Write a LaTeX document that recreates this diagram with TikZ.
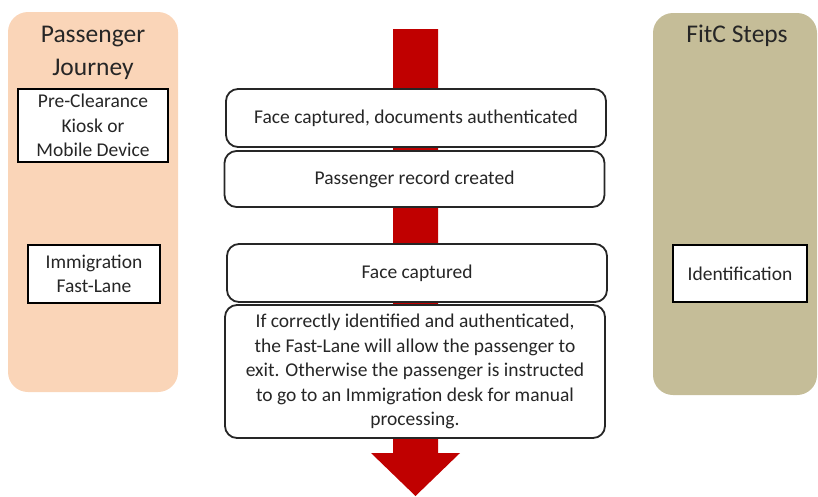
\documentclass[tikz,border=0pt]{standalone}
\usepackage{fontspec}
\setmainfont{Carlito}
\usetikzlibrary{positioning}
\definecolor{cpeach}{HTML}{FAD5B8}
\definecolor{ckhaki}{HTML}{C5BD98}
\definecolor{cred}{HTML}{C00000}
\definecolor{cink}{HTML}{262626}
\tikzset{
  every picture/.style={x=1pt, y=-1pt, text=cink},
  lane/.style={fill=#1, draw=none, rounded corners=20pt},
  lanetitle/.style={font=\fontsize{25.5}{33}\selectfont, align=center},
  stepbox/.style={draw=black, fill=white, line width=1.8pt, align=center, inner sep=2pt,
    font=\fontsize{19.5}{24.5}\selectfont},
  flowbox/.style={draw=black!85, fill=white, line width=1.8pt, rounded corners=12pt, align=center,
    minimum width=380pt, inner sep=2pt, font=\fontsize{19.5}{24.5}\selectfont},
}

\begin{document}
\begin{tikzpicture}
  \useasboundingbox (0,0) rectangle (818,496);
  % swim lanes
  \fill[lane=cpeach] (8,12) rectangle (178,392);
  \fill[lane=ckhaki] (653,13) rectangle (817,395);
  \node[lanetitle] (jt) at (93,53) {Passenger\\Journey};
  \node[lanetitle] (ft) at (737,36) {FitC Steps};
  % big red arrow
  \fill[cred] (393,29) -- (438,29) -- (438,453) -- (460,453) -- (415.5,496)
    -- (371,453) -- (393,453) -- cycle;
  % journey and steps
  \node[stepbox, minimum width=150pt, minimum height=73pt] (pre) at (93,125.5) {Pre-Clearance\\Kiosk or\\Mobile Device};
  \node[stepbox, minimum width=132pt, minimum height=58pt] (lane) at (94,274) {Immigration\\Fast-Lane};
  \node[stepbox, minimum width=134pt, minimum height=57pt] (ident) at (740,273.5) {Identification};
  % flow
  \node[flowbox, minimum height=58pt] (face1) at (416,118) {Face captured, documents authenticated};
  \node[flowbox, minimum height=56pt] (rec) at (414.5,179) {Passenger record created};
  \node[flowbox, minimum height=58pt] (face2) at (417,273) {Face captured};
  \node[flowbox, minimum height=133pt] (exit) at (415,371.5) {If correctly identified and authenticated,\\the Fast-Lane will allow the passenger to\\exit. Otherwise the passenger is instructed\\to go to an Immigration desk for manual\\processing.};
\end{tikzpicture}
\end{document}
